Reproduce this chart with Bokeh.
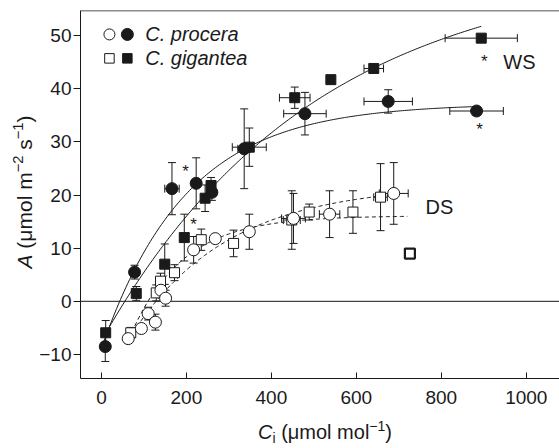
import numpy as np
from bokeh.plotting import figure
from bokeh.layouts import row, column
from bokeh.models import (ColumnDataSource, Whisker, TeeHead, Span, Label,
                          FixedTicker, Div)
from bokeh.core.properties import value
from bokeh.embed import file_html
from bokeh.resources import INLINE

# ---------------- data ----------------
# Well-watered (WS), C. procera (filled circles)
ws_pro_ci = [9, 78, 166, 223, 260, 336, 479, 675, 883]
ws_pro_a = [-8.5, 5.5, 21.2, 22.2, 20.5, 28.7, 35.3, 37.6, 35.8]
ws_pro_ci_err = [0, 0, 17, 10, 10, 15, 50, 57, 63]
ws_pro_a_err = [2.8, 1.3, 4.9, 4.8, 1.5, 7.5, 4.0, 2.2, 0]

# Well-watered (WS), C. gigantea (filled squares)
ws_gig_ci = [10, 82, 149, 195, 244, 258, 348, 455, 540, 641, 894]
ws_gig_a = [-5.9, 1.5, 7.0, 12.0, 19.4, 21.8, 29.0, 38.3, 41.7, 43.8, 49.5]
ws_gig_ci_err = [0, 0, 10, 0, 0, 0, 40, 36, 0, 23, 85]
ws_gig_a_err = [2.3, 1.3, 3.8, 4.4, 2.5, 1.5, 3.6, 2.0, 0, 0, 0]

# Drought stress (DS), C. procera (open circles)
ds_pro_ci = [63, 94, 110, 127, 140, 151, 217, 268, 348, 452, 537, 688]
ds_pro_a = [-7.0, -5.1, -2.3, -3.9, 2.1, 0.6, 9.7, 11.8, 13.1, 15.6, 16.4, 20.3]
ds_pro_ci_err = [0, 0, 0, 0, 0, 0, 0, 0, 0, 28, 24, 34]
ds_pro_a_err = [0.8, 0.5, 1.2, 1.5, 1.0, 1.5, 2.5, 0.5, 3.3, 4.7, 4.4, 5.8]

# Drought stress (DS), C. gigantea (open squares)
ds_gig_ci = [69, 129, 139, 172, 235, 311, 448, 489, 592, 657, 726]
ds_gig_a = [-5.9, 1.6, 3.8, 5.4, 11.6, 10.9, 15.3, 16.8, 16.8, 19.6, 9.0]
ds_gig_ci_err = [0, 0, 0, 0, 0, 0, 20, 0, 0, 16, 0]
ds_gig_a_err = [1.0, 1.5, 1.5, 1.5, 2.0, 2.5, 5.5, 1.5, 4.0, 6.3, 0]

# fitted response curves  A = a - d*exp(-b*Ci), drawn from start to end
fit_ws_pro = dict(a=37.2, d=46.1, b=0.005, start=5, end=880)
fit_ws_gig = dict(a=63.6, d=71.0, b=0.002, start=10, end=894)
fit_ds_low = dict(a=16.1, d=39.2, b=0.00813, start=65, end=720)
fit_ds_up = dict(a=22.0, d=38.5, b=0.00436, start=65, end=685)

# significance asterisks
star_ci = [198, 217, 901, 890]
star_a = [25.2, 15.2, 45.9, 33.1]

x_ticks = [0, 200, 400, 600, 800, 1000]
y_ticks = [-10, 0, 10, 20, 30, 40, 50]

X_START, X_END = -49.3, 1078.2
Y_START, Y_END = -14.5, 54.7

FONT = "Liberation Sans"
INK = "#1a1a1a"

p = figure(width=523, height=416, x_range=(X_START, X_END), y_range=(Y_START, Y_END),
           output_backend="svg", toolbar_location=None,
           min_border_left=43, min_border_right=0, min_border_top=10,
           min_border_bottom=38, margin=0)
p.outline_line_color = None
p.xgrid.visible = False
p.ygrid.visible = False
p.background_fill_color = "white"
p.border_fill_color = "white"

for ax in (p.xaxis[0], p.yaxis[0]):
    ax.axis_line_color = INK
    ax.axis_line_width = 1
    ax.major_tick_line_color = INK
    ax.minor_tick_line_color = None
    ax.major_label_text_font = FONT
    ax.major_label_text_font_size = "19px"
    ax.major_label_text_color = INK

p.xaxis.ticker = FixedTicker(ticks=x_ticks)
p.yaxis.ticker = FixedTicker(ticks=y_ticks)
p.yaxis.major_label_overrides = {t: (f"\u2212{abs(t)}" if t < 0 else str(t)) for t in y_ticks}
p.xaxis.major_tick_in = 6
p.xaxis.major_tick_out = 0
p.xaxis.major_label_standoff = 12
p.yaxis.major_tick_in = 0
p.yaxis.major_tick_out = 7
p.yaxis.major_label_standoff = 2

# top border and zero line
p.add_layout(Span(location=Y_END, dimension="width", line_color=INK, line_width=1.5))
p.add_layout(Span(location=0, dimension="width", line_color="#444444", line_width=1.2,
                  level="underlay"))


def add_errors(ci, a, ci_err, a_err):
    iy = [i for i, e in enumerate(a_err) if e > 0]
    ix = [i for i, e in enumerate(ci_err) if e > 0]
    if iy:
        src = ColumnDataSource(dict(
            x=[ci[i] for i in iy],
            lo=[a[i] - a_err[i] for i in iy],
            hi=[a[i] + a_err[i] for i in iy]))
        p.add_layout(Whisker(base="x", lower="lo", upper="hi", source=src,
                             dimension="height", line_color=INK, line_width=1,
                             upper_head=TeeHead(size=8, line_color=INK, line_width=1),
                             lower_head=TeeHead(size=8, line_color=INK, line_width=1),
                             level="underlay"))
    if ix:
        src = ColumnDataSource(dict(
            y=[a[i] for i in ix],
            lo=[ci[i] - ci_err[i] for i in ix],
            hi=[ci[i] + ci_err[i] for i in ix]))
        p.add_layout(Whisker(base="y", lower="lo", upper="hi", source=src,
                             dimension="width", line_color=INK, line_width=1,
                             upper_head=TeeHead(size=8, line_color=INK, line_width=1),
                             lower_head=TeeHead(size=8, line_color=INK, line_width=1),
                             level="underlay"))


add_errors(ds_pro_ci, ds_pro_a, ds_pro_ci_err, ds_pro_a_err)
add_errors(ds_gig_ci, ds_gig_a, ds_gig_ci_err, ds_gig_a_err)
add_errors(ws_pro_ci, ws_pro_a, ws_pro_ci_err, ws_pro_a_err)
add_errors(ws_gig_ci, ws_gig_a, ws_gig_ci_err, ws_gig_a_err)


def fit_curve(f):
    xs = np.linspace(f["start"], f["end"], 200)
    return xs, f["a"] - f["d"] * np.exp(-f["b"] * xs)


for f, dash in ((fit_ds_low, "4 3"), (fit_ds_up, "4 3"),
                (fit_ws_pro, "solid"), (fit_ws_gig, "solid")):
    xs, ys = fit_curve(f)
    p.line(xs, ys, line_color=INK, line_width=1, line_dash=dash)

# markers
p.scatter(ds_gig_ci[:-1], ds_gig_a[:-1], marker="square", size=10,
          fill_color="white", line_color=INK, line_width=1)
p.scatter(ds_gig_ci[-1:], ds_gig_a[-1:], marker="square", size=10,
          fill_color="white", line_color=INK, line_width=2.2)
p.scatter(ds_pro_ci, ds_pro_a, marker="circle", size=12,
          fill_color="white", line_color=INK, line_width=1)
p.scatter(ws_gig_ci, ws_gig_a, marker="square", size=10,
          fill_color=INK, line_color=INK)
p.scatter(ws_pro_ci, ws_pro_a, marker="circle", size=12,
          fill_color=INK, line_color=INK)

# asterisks
p.text(star_ci, star_a, text=["*"] * len(star_ci), text_font_size="17px",
       text_align="center", text_baseline="middle", y_offset=4,
       text_color=INK, text_font=value(FONT))

# condition labels
p.add_layout(Label(x=946, y=45.0, text="WS", text_font=FONT, text_font_size="20px",
                   text_baseline="middle", text_align="left", text_color=INK))
p.add_layout(Label(x=763, y=17.7, text="DS", text_font=FONT, text_font_size="20px",
                   text_baseline="middle", text_align="left", text_color=INK))

# legend (drawn by hand: open + filled symbol side by side)
leg_x_open, leg_x_fill, leg_x_text = 18.8, 61.0, 103.0
leg_y = [50.2, 45.7]
p.scatter([leg_x_open], [leg_y[0]], marker="circle", size=11, fill_color="white",
          line_color=INK, line_width=1)
p.scatter([leg_x_fill], [leg_y[0]], marker="circle", size=12, fill_color=INK,
          line_color=INK)
p.scatter([leg_x_open], [leg_y[1]], marker="square", size=9.5, fill_color="white",
          line_color=INK, line_width=1)
p.scatter([leg_x_fill], [leg_y[1]], marker="square", size=9.5, fill_color=INK,
          line_color=INK)
for yy, name in zip(leg_y, ["C. procera", "C. gigantea"]):
    p.add_layout(Label(x=leg_x_text, y=yy, text=name, text_font=FONT,
                       text_font_size="20px", text_font_style="italic",
                       text_baseline="middle", text_align="left", text_color=INK))

# axis titles as HTML (italic symbol, sub/superscripts)
SUPSUB = ("<style>.t sup{font-size:70%;vertical-align:0.55em;line-height:0}"
          ".t sub{font-size:70%;vertical-align:-0.25em;line-height:0}</style>")
ylab_html = (SUPSUB +
             "<div style='position:relative;width:36px;height:416px;'>"
             "<div class='t' style=\"position:absolute;left:24px;top:192px;"
             "transform:translate(-50%,-50%) rotate(-90deg);white-space:nowrap;"
             "font-family:'Liberation Sans';font-size:21px;line-height:21px;"
             f"color:{INK};\"><i>A</i> (\u03bcmol m<sup>\u22122</sup> "
             "s<sup>\u22121</sup>)</div></div>")
xlab_html = (SUPSUB +
             "<div style='position:relative;width:523px;height:32px;'>"
             "<div class='t' style=\"position:absolute;left:289px;top:16px;"
             "transform:translate(-50%,-50%);white-space:nowrap;"
             "font-family:'Liberation Sans';font-size:20px;line-height:20px;"
             f"color:{INK};\"><i>C</i><sub>i</sub> (\u03bcmol mol<sup>\u22121</sup>)"
             "</div></div>")

ydiv = Div(text=ylab_html, width=36, height=416, margin=0)
xdiv = Div(text=xlab_html, width=523, height=32, margin=0)
spacer = Div(text="", width=36, height=32, margin=0)

layout = row(column(ydiv, spacer, spacing=0), column(p, xdiv, spacing=0), spacing=0)

open("out.html", "w").write(file_html(layout, INLINE))
